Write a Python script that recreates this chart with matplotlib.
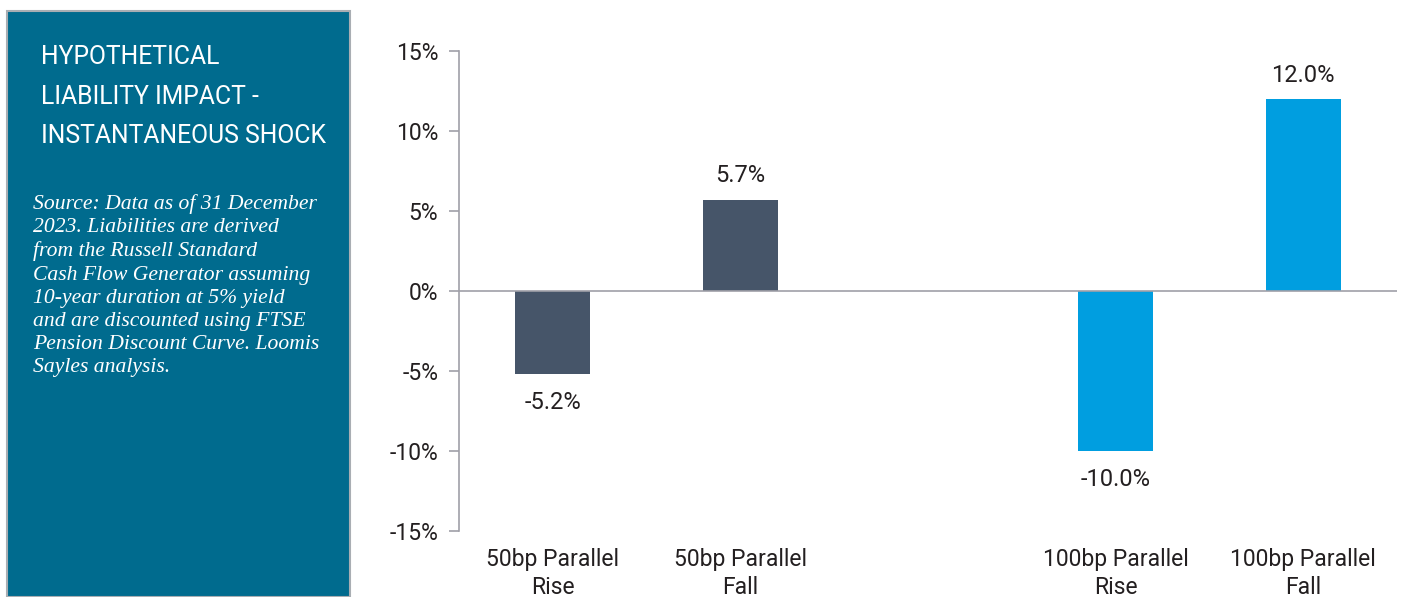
import matplotlib.pyplot as plt
from matplotlib.patches import Rectangle

# chart data
categories = ['50bp Parallel\nRise', '50bp Parallel\nFall', '', '100bp Parallel\nRise', '100bp Parallel\nFall']
positions = [0, 1, 3, 4]
values = [-5.2, 5.7, -10.0, 12.0]
bar_colors = ['#465569', '#465569', '#009ee0', '#009ee0']
y_ticks = [15, 10, 5, 0, -5, -10, -15]

title_lines = 'HYPOTHETICAL\nLIABILITY IMPACT -\nINSTANTANEOUS SHOCK'
source_note = ('Source: Data as of 31 December\n2023. Liabilities are derived\n'
               'from the Russell Standard\nCash Flow Generator assuming\n'
               '10-year duration at 5% yield\nand are discounted using FTSE\n'
               'Pension Discount Curve. Loomis\nSayles analysis.')

W, H = 1405, 597
fig = plt.figure(figsize=(W / 100, H / 100), dpi=100)
fig.patch.set_facecolor('white')

# left side panel
panel = Rectangle((7 / W, 0), (350 - 7) / W, 1 - 11 / H, transform=fig.transFigure,
                  facecolor='#006b8e', edgecolor='#a9aeb3', linewidth=1.5)
fig.patches.append(panel)
fig.text(41 / W, 1 - 45 / H, title_lines, color='white', fontsize=17.8,
         family='Roboto', va='top', ha='left', linespacing=1.82)
fig.text(33 / W, 1 - 194 / H, source_note, color='white', fontsize=15.6,
         family='Liberation Serif', style='italic', va='top', ha='left', linespacing=1.3)

ax = fig.add_axes([459 / W, 1 - 531 / H, (1397 - 459) / W, (531 - 51) / H])
ax.bar(positions, values, width=0.4, color=bar_colors)
ax.set_xlim(-0.5, 4.5)
ax.set_ylim(-15, 15)

ax.set_yticks(y_ticks)
ax.set_yticklabels([f'{t}%' for t in y_ticks])
ax.set_xticks(range(len(categories)))
ax.set_xticklabels(categories, linespacing=1.3)

axis_grey = '#a0a0a8'
for side in ['top', 'right', 'bottom']:
    ax.spines[side].set_visible(False)
ax.spines['left'].set_color(axis_grey)
ax.spines['left'].set_linewidth(1.2)
ax.axhline(0, color=axis_grey, linewidth=1.2, zorder=3)
ax.tick_params(axis='y', length=7, color=axis_grey, width=1.2, pad=8, labelsize=16.5,
               labelcolor='#231f20')
ax.tick_params(axis='x', length=0, pad=12, labelsize=16.5, labelcolor='#231f20')
for lbl in ax.get_xticklabels() + ax.get_yticklabels():
    lbl.set_family('Roboto')

for x, v in zip(positions, values):
    off = 24 if v > 0 else -28
    ax.annotate(f'{v:.1f}%', (x, v), xytext=(0, off), textcoords='offset pixels',
                ha='center', va='center', fontsize=17, family='Roboto', color='#231f20')

fig.savefig('out.png', dpi=100)
